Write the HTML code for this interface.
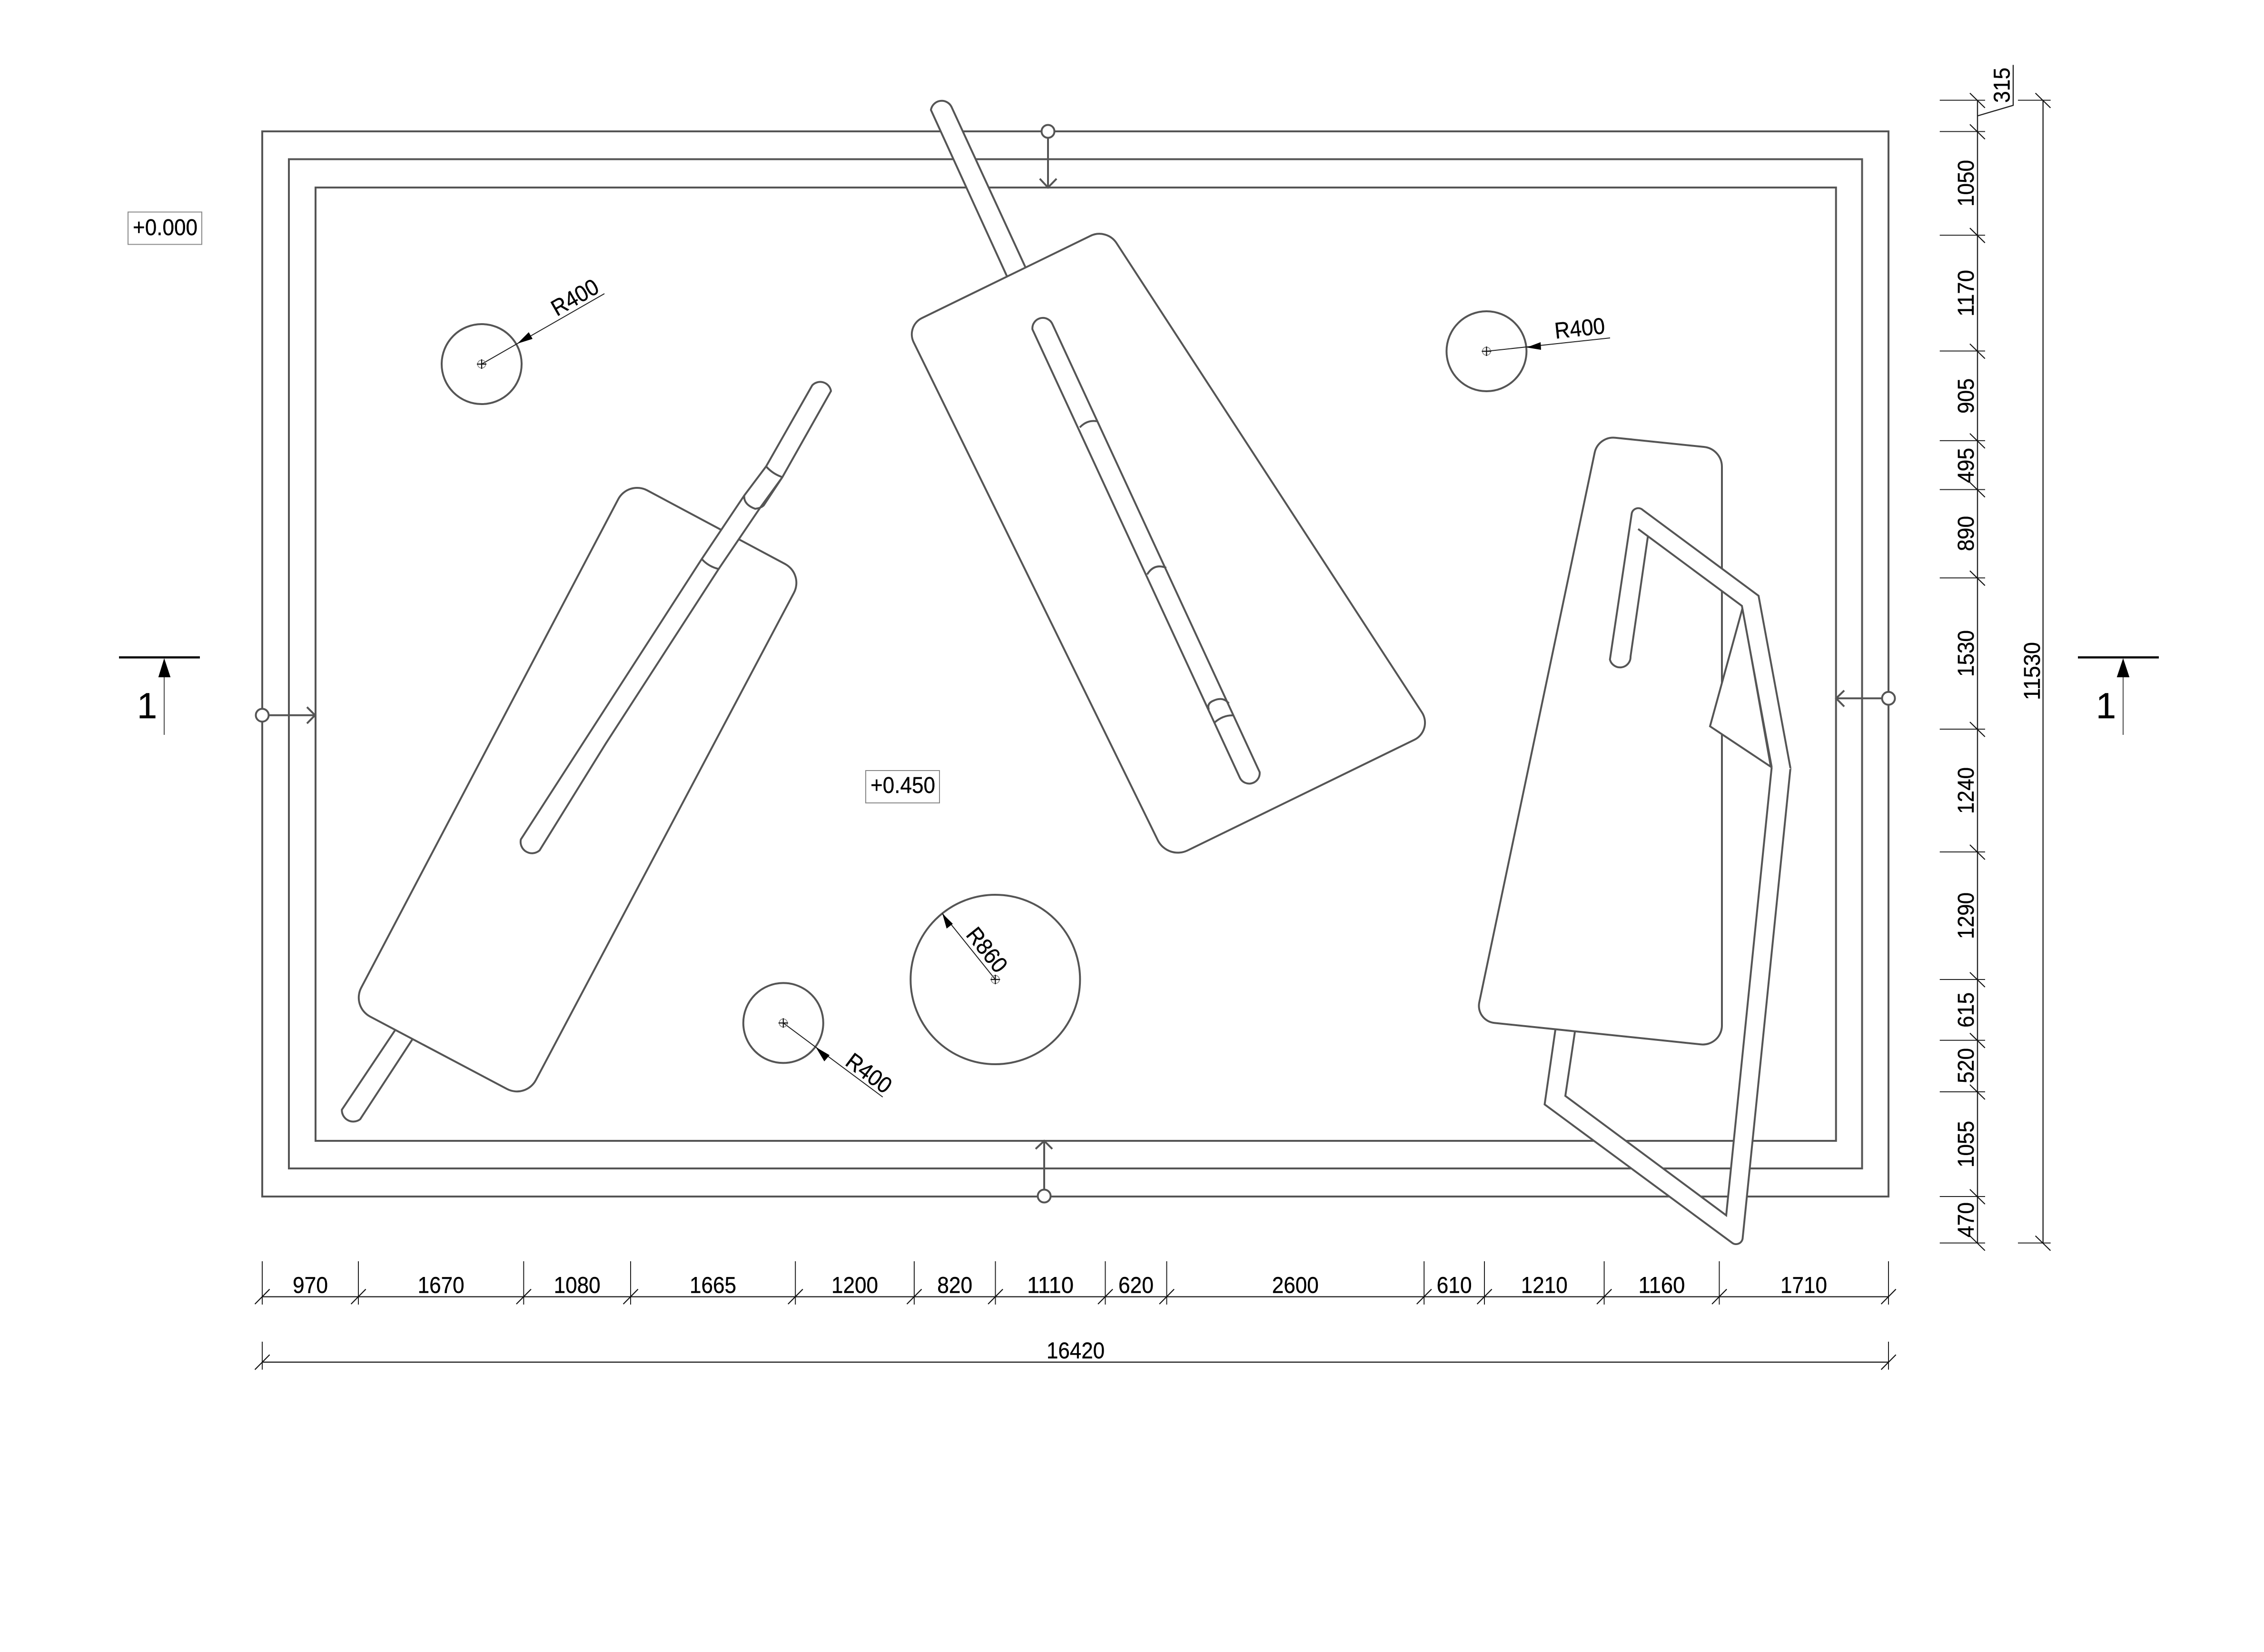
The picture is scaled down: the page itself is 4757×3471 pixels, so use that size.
<!DOCTYPE html>
<html><head><meta charset="utf-8"><title>Plan</title>
<style>
html,body{margin:0;padding:0;background:#fff}
svg{display:block}
text{font-family:"Liberation Sans",sans-serif;font-size:48px;fill:#000;stroke:#000;stroke-width:.4;text-anchor:middle}
.w{fill:#fff;stroke:none}
.s{fill:none;stroke:#555;stroke-width:4;stroke-linejoin:miter}
.p{fill:#fff;stroke:#555;stroke-width:4}
.d{fill:none;stroke:#222;stroke-width:2.4}
.t{fill:none;stroke:#111;stroke-width:2.2}
.l{fill:none;stroke:#222;stroke-width:2}
.c{fill:#fff;stroke:#555;stroke-width:4}
.k{fill:#000;stroke:none}
</style></head>
<body>
<svg xmlns="http://www.w3.org/2000/svg" width="4757" height="3471" viewBox="0 0 4757 3471">
<rect width="4757" height="3471" fill="#fff"/>

<!-- wall rectangles -->
<rect class="s" x="551" y="276" width="3417" height="2238"/>
<rect class="s" x="607" y="334.5" width="3305.5" height="2120.5"/>
<rect class="s" x="663" y="394" width="3194.7" height="2003"/>

<!-- level arrows -->
<path class="s" d="M2202 290V394M2184.7 375.5L2202 394L2220 375.5"/>
<circle class="c" cx="2202" cy="276" r="13.5"/>
<path class="s" d="M3954 1467.3H3858M3875 1450.8L3858 1467.3L3875 1484.5"/>
<circle class="c" cx="3968" cy="1467.3" r="13.5"/>
<path class="s" d="M2194 2500V2397M2176 2414L2194 2397L2211 2414"/>
<circle class="c" cx="2194" cy="2513" r="13.5"/>
<path class="s" d="M565 1502.7H662M645 1485.7L662 1502.7L645 1520"/>
<circle class="c" cx="551" cy="1502.7" r="13.5"/>

<!-- Panel A -->
<path class="p" d="M839.9 2150L718.3 2331.7A24 24 0 0 0 756.7 2351.7L875.5 2170"/>
<path class="p" d="M1359.7 1030.2L1649.3 1184.8A45 45 0 0 1 1668 1245.8L1126 2269.2A45 45 0 0 1 1065.2 2288L777.8 2136A45 45 0 0 1 759 2075.2L1299 1048.8A45 45 0 0 1 1359.7 1030.2Z"/>
<path class="p" d="M1706.6 809.6A23 23 0 0 1 1746 821.6L1643.9 1002.5L1597 1067L1510 1195.5L1273 1562L1133.7 1786.8A24 24 0 0 1 1094.4 1763.7L1474.5 1174.4L1563.8 1041L1609.7 980Z"/>
<path class="s" d="M1609.7 980Q1624 996 1643.9 1002.5M1563.8 1041Q1562 1060 1586.7 1069Q1598 1068 1604.6 1062L1643.9 1002.5M1474.5 1174.4Q1488 1190 1510 1195.5"/>

<!-- Panel B -->
<path class="p" d="M2122.4 595L1956 231A23 23 0 0 1 1999 224L2160.8 575"/>
<path class="p" d="M1937.1 668.3L2290.9 495.7A43 43 0 0 1 2346 510.8L2987.3 1496.2A40 40 0 0 1 2971.1 1554.7L2495 1787A47 47 0 0 1 2433 1766L1919.7 719.1A38 38 0 0 1 1937.1 668.3Z"/>
<path class="p" d="M2169.3 692A22 22 0 0 1 2211.4 681.2L2646.7 1622.3A22 22 0 0 1 2605.5 1635Z"/>
<path class="s" d="M2268.8 898Q2284 882 2304.2 885M2410.3 1207Q2425 1183 2450.5 1193M2540 1491Q2535 1478 2550 1472Q2570 1463 2582 1478M2552 1518Q2570 1502 2592 1503"/>

<!-- Panel C with bent strip -->
<path class="w" d="M3267.9 2155L3245.5 2320.5L3639.7 2611.5L3661.4 2603L3762 1614L3722.6 1612L3627 2553.5L3289 2302.6L3311 2155Z"/>
<path class="s" d="M3269.3 2155L3245.5 2320.5L3639.7 2611.5A14 14 0 0 0 3661.4 2603L3762 1614M3722.6 1612L3627 2553.5L3289 2302.6L3311 2155"/>
<path class="p" d="M3393.8 919.7L3580.2 939A42 42 0 0 1 3618 981V2155A40 40 0 0 1 3574.2 2194.4L3139.8 2149.2A36 36 0 0 1 3108.2 2105.9L3350.6 951.2A40 40 0 0 1 3393.8 919.7Z"/>
<polygon class="p" points="3661.4,1277.3 3593,1526 3720.7,1611"/>
<polygon class="w" points="3382.7,1385.7 3426,1379.3 3462.4,1127.4 3660,1273 3722.6,1612 3762,1616 3695,1251.8 3451.5,1071.3 3428.6,1078.3"/>
<path class="s" d="M3462.4 1127.4L3426 1379.3A22 22 0 0 1 3382.7 1385.7L3428.6 1078.3A14 14 0 0 1 3451.5 1071.3L3695 1251.8L3762 1614M3442 1111.5L3660 1273L3722.6 1612"/>

<!-- Circles -->
<circle class="s" cx="1012" cy="765" r="84"/>
<circle class="s" cx="3123.4" cy="738" r="84"/>
<circle class="s" cx="1645.8" cy="2149.4" r="84"/>
<circle class="s" cx="2091.3" cy="2058" r="178"/>

<!-- radius leaders -->
<path class="l" d="M1012 765L1270 617M3123.4 738L3383 710M1645.8 2149.4L1854.8 2305M2091.3 2058L1980 1919.4"/>
<path class="k" d="M1087 722L1111 698L1119 712ZM3207.7 730L3237 719L3238 735ZM1714 2200L1743 2217L1732 2230ZM1980 1919.4L2002 1941L1989 1951Z"/>
<g fill="none" stroke="#777" stroke-width="1.5">
<circle cx="1012" cy="765" r="8.5"/><circle cx="3123.4" cy="738" r="8.5"/><circle cx="1645.8" cy="2149.4" r="8.5"/><circle cx="2091.3" cy="2058" r="8.5"/>
</g>
<path d="M1002 765H1022M1012 755V775M3113.4 738H3133.4M3123.4 728V748M1635.8 2149.4H1655.8M1645.8 2139.4V2159.4M2081.3 2058H2101.3M2091.3 2048V2068" stroke="#111" stroke-width="2.2" fill="none"/>
<text x="1216" y="639" textLength="106" lengthAdjust="spacingAndGlyphs" transform="rotate(-29.8 1216 639)">R400</text>
<text x="3321" y="706" textLength="106" lengthAdjust="spacingAndGlyphs" transform="rotate(-6.1 3321 706)">R400</text>
<text x="1816" y="2268" textLength="106" lengthAdjust="spacingAndGlyphs" transform="rotate(36.7 1816 2268)">R400</text>
<text x="2061" y="2006" textLength="106" lengthAdjust="spacingAndGlyphs" transform="rotate(51.3 2061 2006)">R860</text>

<!-- level labels -->
<rect x="269" y="445.5" width="155" height="68" fill="#fff" stroke="#888" stroke-width="2"/>
<text x="347" y="494" textLength="136" lengthAdjust="spacingAndGlyphs">+0.000</text>
<rect x="1819" y="1619" width="155" height="68" fill="#fff" stroke="#888" stroke-width="2"/>
<text x="1897" y="1666" textLength="136" lengthAdjust="spacingAndGlyphs">+0.450</text>

<!-- section marks -->
<path d="M250 1381.3H420M4366 1381.3H4536" stroke="#000" stroke-width="4.5" fill="none"/>
<path d="M345 1422V1544M4461 1422V1544" stroke="#555" stroke-width="2.2" fill="none"/>
<path class="k" d="M345 1383L358.3 1423H332.7ZM4461 1383L4474.3 1423H4447.7Z"/>
<text x="309" y="1509" style="font-size:76px">1</text>
<text x="4425" y="1509" style="font-size:76px">1</text>

<!-- vertical dimensions -->
<path class="d" d="M4155 210.6V2611.6M4292.7 210.6V2611.6M4155 243.5L4230 221.3V136.4"/>
<path class="l" d="M4075.7 210.6H4171M4075.7 276.4H4171M4075.7 494.2H4171M4075.7 737.5H4171M4075.7 925.9H4171M4075.7 1028.6H4171M4075.7 1214.3H4171M4075.7 1532H4171M4075.7 1790H4171M4075.7 2058H4171M4075.7 2185.7H4171M4075.7 2294H4171M4075.7 2514H4171M4075.7 2611.6H4171M4240 210.6H4308.7M4240 2611.6H4308.7"/>
<path class="t" d="M4139 195.6l31.7 31M4139 261.4l31.7 31M4139 479.2l31.7 31M4139 722.5l31.7 31M4139 910.9l31.7 31M4139 1013.6l31.7 31M4139 1199.3l31.7 31M4139 1517l31.7 31M4139 1775l31.7 31M4139 2043l31.7 31M4139 2170.7l31.7 31M4139 2279l31.7 31M4139 2499l31.7 31M4139 2596.6l31.7 31M4276.7 195.6l31.7 31M4276.7 2596.6l31.7 31"/>
<text x="4222.5" y="179" textLength="74" lengthAdjust="spacingAndGlyphs" transform="rotate(-90 4222.5 179)">315</text>
<text x="4147" y="385" textLength="98" lengthAdjust="spacingAndGlyphs" transform="rotate(-90 4147 385)">1050</text>
<text x="4147" y="616" textLength="98" lengthAdjust="spacingAndGlyphs" transform="rotate(-90 4147 616)">1170</text>
<text x="4147" y="832" textLength="74" lengthAdjust="spacingAndGlyphs" transform="rotate(-90 4147 832)">905</text>
<text x="4147" y="978" textLength="74" lengthAdjust="spacingAndGlyphs" transform="rotate(-90 4147 978)">495</text>
<text x="4147" y="1121" textLength="74" lengthAdjust="spacingAndGlyphs" transform="rotate(-90 4147 1121)">890</text>
<text x="4147" y="1373" textLength="98" lengthAdjust="spacingAndGlyphs" transform="rotate(-90 4147 1373)">1530</text>
<text x="4147" y="1661" textLength="98" lengthAdjust="spacingAndGlyphs" transform="rotate(-90 4147 1661)">1240</text>
<text x="4147" y="1924" textLength="98" lengthAdjust="spacingAndGlyphs" transform="rotate(-90 4147 1924)">1290</text>
<text x="4147" y="2122" textLength="74" lengthAdjust="spacingAndGlyphs" transform="rotate(-90 4147 2122)">615</text>
<text x="4147" y="2239" textLength="74" lengthAdjust="spacingAndGlyphs" transform="rotate(-90 4147 2239)">520</text>
<text x="4147" y="2404" textLength="98" lengthAdjust="spacingAndGlyphs" transform="rotate(-90 4147 2404)">1055</text>
<text x="4147" y="2563" textLength="74" lengthAdjust="spacingAndGlyphs" transform="rotate(-90 4147 2563)">470</text>
<text x="4286" y="1410" textLength="122" lengthAdjust="spacingAndGlyphs" transform="rotate(-90 4286 1410)">11530</text>

<!-- horizontal dimensions -->
<path class="d" d="M551 2724.6H3968M551 2862H3968"/>
<path class="l" d="M551 2650V2741M753 2650V2741M1100.3 2650V2741M1325 2650V2741M1671.2 2650V2741M1920.9 2650V2741M2091.5 2650V2741M2322.4 2650V2741M2451.4 2650V2741M2992.2 2650V2741M3119 2650V2741M3370.6 2650V2741M3612.5 2650V2741M3968 2650V2741M551 2819V2877.7M3968 2819V2877.7"/>
<path class="t" d="M535.6 2740l31-31.3M737.6 2740l31-31.3M1084.9 2740l31-31.3M1309.6 2740l31-31.3M1655.8 2740l31-31.3M1905.5 2740l31-31.3M2076.1 2740l31-31.3M2307 2740l31-31.3M2436 2740l31-31.3M2976.8 2740l31-31.3M3103.6 2740l31-31.3M3355.2 2740l31-31.3M3597.1 2740l31-31.3M3952.6 2740l31-31.3M535.6 2877.7l31-31.3M3952.6 2877.7l31-31.3"/>
<text x="652" y="2716.5" textLength="74" lengthAdjust="spacingAndGlyphs">970</text>
<text x="926.6" y="2716.5" textLength="98" lengthAdjust="spacingAndGlyphs">1670</text>
<text x="1212.6" y="2716.5" textLength="98" lengthAdjust="spacingAndGlyphs">1080</text>
<text x="1498" y="2716.5" textLength="98" lengthAdjust="spacingAndGlyphs">1665</text>
<text x="1796" y="2716.5" textLength="98" lengthAdjust="spacingAndGlyphs">1200</text>
<text x="2006.2" y="2716.5" textLength="74" lengthAdjust="spacingAndGlyphs">820</text>
<text x="2207" y="2716.5" textLength="98" lengthAdjust="spacingAndGlyphs">1110</text>
<text x="2386.9" y="2716.5" textLength="74" lengthAdjust="spacingAndGlyphs">620</text>
<text x="2721.8" y="2716.5" textLength="98" lengthAdjust="spacingAndGlyphs">2600</text>
<text x="3055.6" y="2716.5" textLength="74" lengthAdjust="spacingAndGlyphs">610</text>
<text x="3244.8" y="2716.5" textLength="98" lengthAdjust="spacingAndGlyphs">1210</text>
<text x="3491.5" y="2716.5" textLength="98" lengthAdjust="spacingAndGlyphs">1160</text>
<text x="3790" y="2716.5" textLength="98" lengthAdjust="spacingAndGlyphs">1710</text>
<text x="2260" y="2854" textLength="122" lengthAdjust="spacingAndGlyphs">16420</text>
</svg>
</body></html>
